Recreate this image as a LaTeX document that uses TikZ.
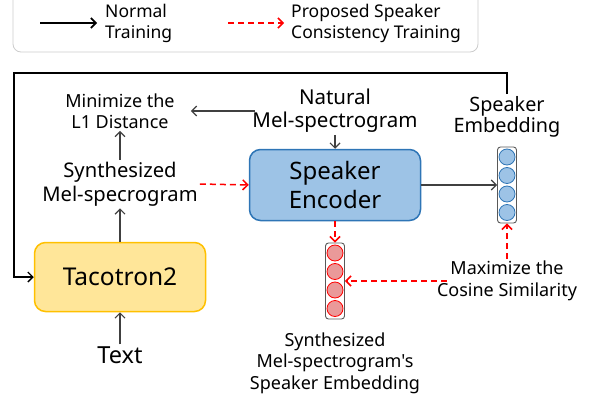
\documentclass[tikz,border=0pt]{standalone}
\usepackage{fontspec}
\setmainfont{Noto Sans}[Ligatures=TeXOff]
\usetikzlibrary{arrows.meta}
\definecolor{encfill}{HTML}{9DC3E6}
\definecolor{encdraw}{HTML}{2E75B6}
\definecolor{tacofill}{HTML}{FFE699}
\definecolor{tacodraw}{HTML}{FFC000}
\definecolor{redfill}{HTML}{EA9999}
\definecolor{garr}{HTML}{404040}
\begin{document}
\begin{tikzpicture}[x=1pt,y=-1pt,
  lbl/.style={align=center, font=\fontsize{18}{21.5}\selectfont, inner sep=2pt},
  lblbig/.style={align=center, font=\fontsize{20.2}{24}\selectfont, inner sep=2pt},
  lgd/.style={align=left, anchor=west, font=\fontsize{17.5}{21}\selectfont, inner sep=0pt},
  garrow/.style={draw=garr, line width=1.2pt, -{Straight Barb[length=5pt,width=10pt]}},
  rarrow/.style={draw=red, line width=1.5pt, dash pattern=on 6pt off 4pt, -{Straight Barb[length=5pt,width=10pt]}},
  karrow/.style={draw=black, line width=1.6pt, -{Straight Barb[length=5pt,width=10pt]}},
  bigbox/.style={rounded corners=11pt, line width=1.5pt, minimum width=171pt, align=center, font=\fontsize{24.5}{29}\selectfont},
  vecbox/.style={draw=black!65, fill=white, line width=0.9pt, rounded corners=3pt, minimum width=19pt, minimum height=76pt, inner sep=0pt},
  bcirc/.style={circle, draw=encdraw, fill=encfill, line width=0.8pt, minimum size=16pt, inner sep=0pt},
  rcirc/.style={circle, draw=red, fill=redfill, line width=0.8pt, minimum size=16pt, inner sep=0pt}
]
\useasboundingbox (0,0) rectangle (596,401);
% legend
\draw[rounded corners=8pt, draw=black!20, line width=0.8pt] (13,-20) rectangle (478,52);
\coordinate (la1) at (40,23); \coordinate (la2) at (97,23);
\draw[karrow] (la1) -- (la2);
\node[lgd] (lnorm) at (105,23) {Normal\\Training};
\coordinate (lb1) at (228,23); \coordinate (lb2) at (284,23);
\draw[rarrow] (lb1) -- (lb2);
\node[lgd] (lprop) at (291,23) {Proposed Speaker\\Consistency Training};

% nodes
\node[bigbox, draw=tacodraw, fill=tacofill, minimum height=69pt] (taco) at (120,277) {Tacotron2};
\node[bigbox, draw=encdraw, fill=encfill, minimum height=71pt, font=\fontsize{24}{29}\selectfont] (enc) at (335,185) {Speaker\\Encoder};
\node[lblbig] (syn) at (120,184) {Synthesized\\Mel-specrogram};
\node[lbl] (min) at (120,111) {Minimize the\\L1 Distance};
\node[lbl, font=\fontsize{20.5}{23}\selectfont] (nat) at (335,111) {Natural\\Mel-spectrogram};
\node[align=center, font=\fontsize{23.5}{28}\selectfont, inner sep=2pt] (text) at (120,355) {Text};
\node[lbl, font=\fontsize{19.8}{21.5}\selectfont] (spkl) at (507,117) {Speaker\\Embedding};
\node[vecbox] (emb) at (507,185) {};
\node[bcirc] (b1) at (507,157) {};
\node[bcirc] (b2) at (507,175.5) {};
\node[bcirc] (b3) at (507,194) {};
\node[bcirc] (b4) at (507,212.5) {};
\node[vecbox] (remb) at (335,281) {};
\node[rcirc] (r1) at (335,253) {};
\node[rcirc] (r2) at (335,271.5) {};
\node[rcirc] (r3) at (335,290) {};
\node[rcirc] (r4) at (335,308.5) {};
\node[lbl] (synemb) at (335,363) {Synthesized\\Mel-spectrogram's\\Speaker Embedding};
\node[lbl] (max) at (507,281) {Maximize the\\Cosine Similarity};

% connectors
\draw[garrow] (text) -- (taco);
\draw[garrow] (taco) -- (syn);
\draw[garrow] (syn) -- (min);
\draw[garrow, shorten <=-5pt, shorten >=14pt] (nat.west) -- (min.east);
\draw[garrow] (nat) -- (enc);
\draw[garrow] (enc.east) -- (emb.west);
\draw[rarrow] (syn.east) -- (enc.west);
\draw[rarrow] (enc.south) -- (remb.north);
\draw[rarrow] (max.north) -- (emb.south);
\draw[rarrow, shorten <=-12pt] (max.west) -- (remb.east);
\coordinate (fb1) at (507,73); \coordinate (fb2) at (14,73);
\draw[karrow, line width=1.4pt] (spkl.north) -- (fb1) -- (fb2) |- (taco.west);
\end{tikzpicture}
\end{document}
